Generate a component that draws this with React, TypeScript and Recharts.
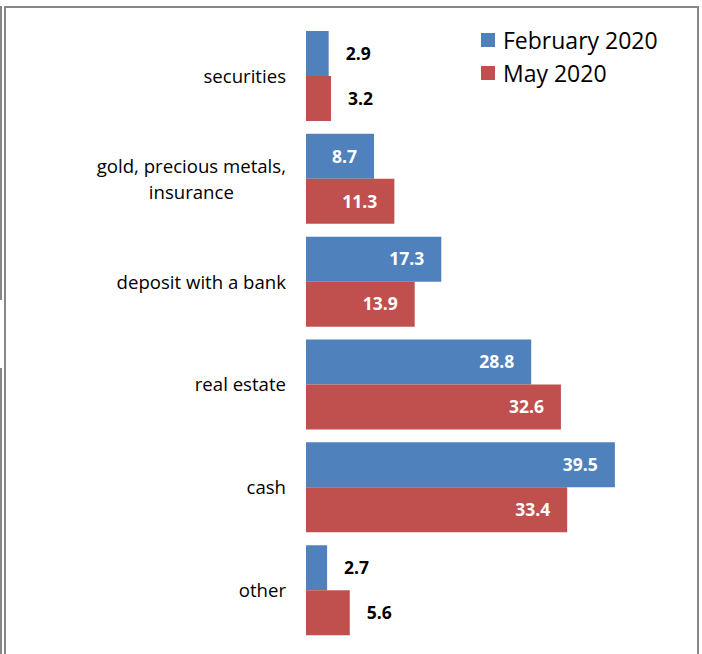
import { BarChart, Bar, XAxis, YAxis, LabelList } from "recharts";

const categories = [
  "securities",
  "gold, precious metals, insurance",
  "deposit with a bank",
  "real estate",
  "cash",
  "other",
];
const feb2020 = [2.9, 8.7, 17.3, 28.8, 39.5, 2.7];
const may2020 = [3.2, 11.3, 13.9, 32.6, 33.4, 5.6];
const seriesNames = ["February 2020", "May 2020"];
const seriesColors = ["#4F81BD", "#C0504D"];
const labelBreaks: Record<string, string[]> = {
  "gold, precious metals, insurance": ["gold, precious metals,", "insurance"],
};

const data = categories.map((name, i) => ({
  name,
  feb: feb2020[i],
  may: may2020[i],
}));
const boundaryTicks = [...categories.map((_, i) => i), categories.length];

const FONT = "'Open Sans', sans-serif";
const AXIS_GRAY = "#878787";
const CAT_SIZE = 18.6;

let ctx: CanvasRenderingContext2D | null = null;
function textWidth(s: string, font: string) {
  if (!ctx) ctx = document.createElement("canvas").getContext("2d");
  if (!ctx) return s.length * 8;
  ctx.font = font;
  return ctx.measureText(s).width;
}

function CategoryTick({ x, y, payload }: any) {
  const lines = labelBreaks[payload.value] ?? [payload.value];
  const lh = 26;
  const blockW = Math.max(...lines.map((l) => textWidth(l, `${CAT_SIZE}px ${FONT}`)));
  const cx = x - blockW / 2;
  const y0 = y - ((lines.length - 1) * lh) / 2;
  return (
    <text fontFamily={FONT} fontSize={CAT_SIZE} fill="#000" textAnchor="middle">
      {lines.map((l, i) => (
        <tspan key={i} x={cx} y={y0 + i * lh} dy="0.35em">
          {l}
        </tspan>
      ))}
    </text>
  );
}

// small values go outside the bar in black, the rest inside in white
function BarValue({ x, y, width, height, value }: any) {
  const inside = value > 6;
  return (
    <text
      x={inside ? x + width - 17 : x + width + 17}
      y={y + height / 2}
      dy="0.36em"
      textAnchor={inside ? "end" : "start"}
      fontFamily={FONT}
      fontSize={17.5}
      fontWeight="bold"
      fill={inside ? "#fff" : "#000"}
    >
      {value.toFixed(1)}
    </text>
  );
}

function LegendBox() {
  return (
    <div
      style={{
        position: "absolute",
        left: 481,
        top: 23,
        fontFamily: FONT,
        fontSize: 23,
        color: "#000",
      }}
    >
      {seriesNames.map((n, i) => (
        <div
          key={n}
          style={{ display: "flex", alignItems: "center", height: 33 }}
        >
          <span
            style={{
              width: 14,
              height: 14,
              background: seriesColors[i],
              marginRight: 8,
              display: "inline-block",
            }}
          />
          {n}
        </div>
      ))}
    </div>
  );
}

export default function App() {
  return (
    <div
      style={{
        position: "absolute",
        left: 0,
        top: 0,
        width: 702,
        height: 654,
        overflow: "hidden",
        background: "#fff",
      }}
    >
      <div
        style={{
          position: "absolute",
          left: 4,
          top: 6,
          width: 691,
          height: 700,
          borderLeft: `2px solid ${AXIS_GRAY}`,
          borderTop: `2px solid ${AXIS_GRAY}`,
          borderRight: `2px solid ${AXIS_GRAY}`,
        }}
      />
      <div style={{ position: "absolute", left: 0, top: 6, width: 1.5, height: 294, background: AXIS_GRAY }} />
      <div style={{ position: "absolute", left: 0, top: 368, width: 1.5, height: 290, background: AXIS_GRAY }} />
      <BarChart
        width={702}
        height={654}
        data={data}
        layout="vertical"
        margin={{ top: 25, right: 5, bottom: 12, left: 0 }}
        barCategoryGap={6}
        barGap={0}
        style={{ position: "absolute", left: 0, top: 0 }}
      >
        <XAxis type="number" domain={[0, 50]} hide />
        <YAxis
          yAxisId="bounds"
          type="number"
          domain={[0, categories.length]}
          ticks={boundaryTicks}
          tick={false}
          tickSize={7}
          width={0}
          axisLine={{ stroke: AXIS_GRAY, strokeWidth: 2 }}
          tickLine={{ stroke: AXIS_GRAY, strokeWidth: 2 }}
        />
        <YAxis
          type="category"
          dataKey="name"
          width={306}
          axisLine={false}
          tickLine={false}
          tickSize={20}
          tickMargin={0}
          interval={0}
          tick={<CategoryTick />}
        />
        <Bar dataKey="feb" name={seriesNames[0]} fill={seriesColors[0]} isAnimationActive={false}>
          <LabelList dataKey="feb" content={<BarValue />} />
        </Bar>
        <Bar dataKey="may" name={seriesNames[1]} fill={seriesColors[1]} isAnimationActive={false}>
          <LabelList dataKey="may" content={<BarValue />} />
        </Bar>
      </BarChart>
      <LegendBox />
    </div>
  );
}
